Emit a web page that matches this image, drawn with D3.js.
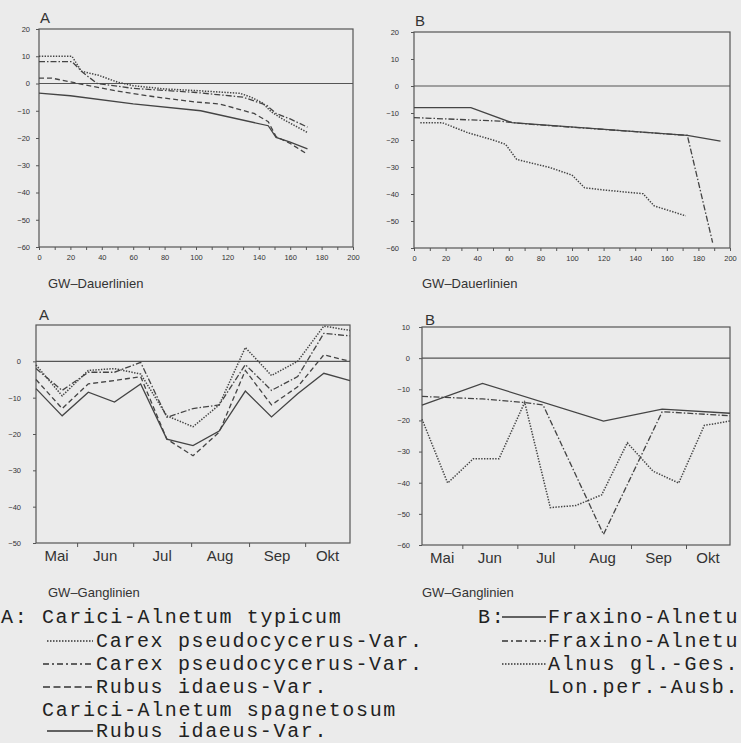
<!DOCTYPE html>
<html>
<head>
<meta charset="utf-8">
<script src="https://cdn.jsdelivr.net/npm/d3@7/dist/d3.min.js"></script>
<style>
  body { margin: 0; background: #ebebeb; }
  svg { display: block; }
</style>
</head>
<body>
<svg id="fig" width="741" height="743"></svg>
<script>
// GW-Dauerlinien, [Tage, cm]
var dauerA_dot     = [[0,10],[21,10],[27,4.5],[38,3],[50,0.5],[60,-0.8],[80,-2],[100,-2.6],[128,-3.6],[135,-5],[142,-7],[148,-10.4],[155,-13],[171,-18]];
var dauerA_dashdot = [[0,8],[21,8],[28,4],[37,0],[50,-1],[60,-1.8],[100,-3.3],[130,-5],[145,-8],[151,-11],[160,-13],[171,-16]];
var dauerA_dash    = [[0,2],[8,2],[25,0],[50,-2.8],[75,-5],[100,-6.8],[115,-7.5],[137,-11],[146,-14],[151,-19.5],[160,-22],[171,-26]];
var dauerA_solid   = [[0,-3.5],[20,-4.5],[60,-7.5],[103,-10],[146,-15.5],[151,-19.8],[160,-21.5],[171,-24]];

var dauerB_solid   = [[0,-8],[36,-8],[62,-13.6],[173,-18.3],[194,-20.4]];
var dauerB_dashdot = [[0,-11.7],[54,-13],[70,-14],[173,-18.3],[189,-58]];
var dauerB_dot     = [[4,-13.6],[18,-13.6],[34,-17.3],[50,-20],[58,-21.6],[65,-27.2],[86,-30.2],[100,-33],[108,-37.7],[120,-38.5],[145,-39.9],[152,-44.4],[172,-48.1]];

// GW-Ganglinien (Messtermine)
var gangDates      = ["05-10","05-24","06-07","06-21","07-05","07-19","08-02","08-16","08-30","09-13","09-27","10-11","10-25"];
var gangA_dot      = [-1, -9.5, -2.5, -2, -3.5, -15, -18, -12, 3.8, -3.9, 0, 9.7, 8.5];
var gangA_dashdot  = [-2, -8, -3, -3, -0.3, -15.4, -13, -12, -0.9, -8, -4.2, 7.7, 7];
var gangA_dash     = [-5, -13, -6.2, -5.3, -4.2, -21.4, -26, -19.5, -2.5, -12, -7, 1.8, 0];
var gangA_solid    = [-7.5, -15, -8.5, -11.2, -6.2, -21.4, -23.2, -19.2, -8.2, -15.3, -8.9, -3.3, -5.3];

var gangB_dot      = [-19.6, -40.1, -32.3, -32.3, -14.2, -48, -47.3, -43.9, -27.2, -36.3, -40.1, -21.6, -20.2];
var gangB_solidDates   = ["05-10","06-12","08-17","09-18","10-25"];
var gangB_solid        = [-15.1, -8.1, -20.2, -16.4, -17.7];
var gangB_dashdotDates = ["05-10","06-12","07-04","07-15","08-17","09-18","10-25"];
var gangB_dashdot      = [-12.3, -13.1, -14.2, -15, -56.6, -17.2, -18.5];

var months     = ["Mai","Jun","Jul","Aug","Sep","Okt"];
var monthStart = ["05-10","06-01","07-01","08-01","09-01","10-01","10-25"];

var dauerXTicks = d3.range(0, 201, 10);
var dauerYTicks = [20,10,0,-10,-20,-30,-40,-50,-60];
var gangAYTicks = [0,-10,-20,-30,-40,-50];
var gangBYTicks = [10,0,-10,-20,-30,-40,-50,-60];

var legendA = ["A: Carici-Alnetum typicum", "Carex pseudocycerus-Var.", "Carex pseudocycerus-Var.",
               "Rubus idaeus-Var.", "Carici-Alnetum spagnetosum", "Rubus idaeus-Var."];
var legendB = ["Fraxino-Alnetu", "Fraxino-Alnetu", "Alnus gl.-Ges.", "Lon.per.-Ausb."];

var ink = "#444";
var dashes = { solid: null, dash: "5,3", dashdot: "6,2,1.5,2", dot: "1.4,1.4" };
var parseD = d3.timeParse("%Y-%m-%d");
function day(s) { return parseD("1990-" + s); }
var fmt = function(d) { return d < 0 ? "\u2212" + Math.abs(d) : d; };

var svg = d3.select("#fig");

function frame(g, x, y, yTicks, pad) {
  var r = x.range(), b = y.range();
  g.append("rect").attr("x", r[0]).attr("y", b[1]).attr("width", r[1]-r[0]).attr("height", b[0]-b[1])
    .attr("fill", "none").attr("stroke", "#555").attr("stroke-width", 1.2);
  var ya = g.append("g").attr("transform", "translate(" + r[0] + ",0)")
    .call(d3.axisLeft(y).tickValues(yTicks).tickSize(3).tickPadding(pad).tickFormat(fmt));
  ya.select(".domain").remove();
  ya.selectAll("line").attr("stroke", "#555");
  ya.selectAll("text").attr("font-family", "Liberation Sans, Arial, sans-serif").attr("font-size", 7.5).attr("fill", "#333");
  g.append("line").attr("x1", r[0]).attr("x2", r[1]).attr("y1", y(0)).attr("y2", y(0))
    .attr("stroke", "#555").attr("stroke-width", 1.2);
}

function series(g, pts, x, y, style) {
  g.append("path").datum(pts)
    .attr("d", d3.line().x(function(d){ return x(d[0]); }).y(function(d){ return y(d[1]); }))
    .attr("fill", "none").attr("stroke", ink).attr("stroke-width", style === "dot" ? 1.5 : 1.3)
    .attr("stroke-dasharray", dashes[style]);
}

function label(g, txt, x, y, size) {
  g.append("text").attr("x", x).attr("y", y).text(txt)
    .attr("font-family", "Liberation Sans, Arial, sans-serif").attr("font-size", size).attr("fill", "#333");
}

function dauerPanel(left, right, top, bottom, pad, list, letter, ly, capX) {
  var x = d3.scaleLinear().domain([0, 200]).range([left, right]);
  var y = d3.scaleLinear().domain([-60, 20]).range([bottom, top]);
  var g = svg.append("g");
  frame(g, x, y, dauerYTicks, pad);
  var xa = g.append("g").attr("transform", "translate(0," + bottom + ")")
    .call(d3.axisBottom(x).tickValues(dauerXTicks).tickSize(3).tickPadding(5)
      .tickFormat(function(d){ return d % 20 === 0 ? d : ""; }));
  xa.select(".domain").remove();
  xa.selectAll("line").attr("stroke", "#555");
  xa.selectAll("text").attr("font-family", "Liberation Sans, Arial, sans-serif").attr("font-size", 7.5).attr("fill", "#333");
  list.forEach(function(s){ series(g, s[0], x, y, s[1]); });
  label(g, letter, left + 1, ly, 15);
  label(g, "GW\u2013Dauerlinien", capX, 288, 13);
}

function gangPanel(left, right, top, bottom, pad, yDomain, yTicks, list, letter, ly, capX) {
  var x = d3.scaleTime().domain([day(monthStart[0]), day(monthStart[6])]).range([left, right]);
  var y = d3.scaleLinear().domain(yDomain).range([bottom, top]);
  var g = svg.append("g");
  frame(g, x, y, yTicks, pad);
  var xa = g.append("g").attr("transform", "translate(0," + bottom + ")")
    .call(d3.axisBottom(x).tickValues(monthStart.slice(1, 6).map(day)).tickSize(4).tickFormat(""));
  xa.select(".domain").remove();
  xa.selectAll("line").attr("stroke", "#555");
  months.forEach(function(m, i){
    var cx = (x(day(monthStart[i])) + x(day(monthStart[i+1]))) / 2;
    g.append("text").attr("x", cx).attr("y", bottom + 18).attr("text-anchor", "middle").text(m)
      .attr("font-family", "Liberation Sans, Arial, sans-serif").attr("font-size", 15).attr("fill", "#333");
  });
  list.forEach(function(s){
    var pts = s[0].map(function(d, i){ return [day(d), s[1][i]]; });
    series(g, pts, x, y, s[2]);
  });
  label(g, letter, left + 3, ly, 15);
  label(g, "GW\u2013Ganglinien", capX, 597, 13);
}

dauerPanel(39, 353, 29, 247, 6,
  [[dauerA_dot, "dot"], [dauerA_dashdot, "dashdot"], [dauerA_dash, "dash"], [dauerA_solid, "solid"]], "A", 23, 48);
dauerPanel(414, 730, 32, 248, 12,
  [[dauerB_dot, "dot"], [dauerB_dashdot, "dashdot"], [dauerB_solid, "solid"]], "B", 26, 422);
gangPanel(36, 350, 325, 543, 12, [-50, 10], gangAYTicks,
  [[gangDates, gangA_dot, "dot"], [gangDates, gangA_dashdot, "dashdot"], [gangDates, gangA_dash, "dash"], [gangDates, gangA_solid, "solid"]], "A", 320, 48);
gangPanel(422, 730, 327, 545, 9, [-60, 10], gangBYTicks,
  [[gangDates, gangB_dot, "dot"], [gangB_dashdotDates, gangB_dashdot, "dashdot"], [gangB_solidDates, gangB_solid, "solid"]], "B", 325, 422);

// Legende
var lg = svg.append("g").attr("font-family", "Liberation Mono, Courier New, monospace")
  .attr("font-size", 20).attr("letter-spacing", 1.65).attr("fill", "#222");
var rowY = [623, 647, 670, 693, 716, 737];
function key(x1, x2, yy, style) {
  lg.append("line").attr("x1", x1).attr("x2", x2).attr("y1", yy - 6).attr("y2", yy - 6)
    .attr("stroke", "#333").attr("stroke-width", style === "dot" ? 1.6 : 1.3)
    .attr("stroke-dasharray", style === "dash" ? "7,3.5" : style === "dashdot" ? "6,3,2,3" : style === "dot" ? "1.5,1.5" : null);
}
var aStyles = [null, "dot", "dashdot", "dash", null, "solid"];
legendA.forEach(function(t, i){
  var tx = (i === 0 || i === 4) ? (i === 0 ? 1 : 42) : 96;
  lg.append("text").attr("x", tx).attr("y", rowY[i]).text(t);
  if (aStyles[i]) key(aStyles[i] === "dot" || aStyles[i] === "solid" ? 47 : 43, 93, rowY[i], aStyles[i]);
});
lg.append("text").attr("x", 478).attr("y", rowY[0]).text("B:");
var bStyles = ["solid", "dashdot", "dot", null];
legendB.forEach(function(t, i){
  lg.append("text").attr("x", 548).attr("y", rowY[i]).text(t);
  if (bStyles[i]) key(502, 546, rowY[i], bStyles[i]);
});
</script>
</body>
</html>
